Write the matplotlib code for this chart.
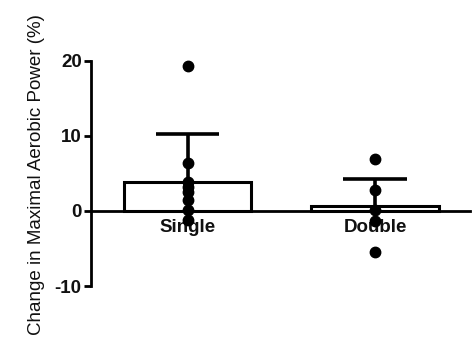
import matplotlib
matplotlib.use("Agg")
import matplotlib.pyplot as plt
import numpy as np

# Groups and individual participant changes (%)
groups = ["Single", "Double"]
single_values = [19.3, 6.4, 3.9, 3.2, 2.5, 1.5, 0.1, -1.2]
double_values = [6.9, 2.8, 0.1, -1.3, -5.4]
group_means = [3.9, 0.6]
group_sd = [6.3, 3.6]
y_ticks = [-10, 0, 10, 20]

plt.rcParams["font.family"] = ["Liberation Sans", "DejaVu Sans"]

fig = plt.figure(figsize=(4.75, 3.44), dpi=100)
ax = fig.add_axes([0.191, 0.1686, 0.798, 0.6541])

ax.spines["top"].set_visible(False)
ax.spines["right"].set_visible(False)
ax.spines["bottom"].set_position(("data", 0))
ax.spines["bottom"].set_linewidth(2.0)
ax.spines["left"].set_linewidth(2.0)

x = np.arange(len(groups))
bar_w = 0.68

ax.bar(x, group_means, width=bar_w, facecolor="white", edgecolor="black",
       linewidth=2.2, zorder=2)

# One-sided (upper) SD error bars
for xi, m, s in zip(x, group_means, group_sd):
    ax.plot([xi, xi], [m, m + s], color="black", lw=2.6, zorder=3,
            solid_capstyle="butt")
    ax.plot([xi - 0.17, xi + 0.17], [m + s, m + s], color="black", lw=2.6,
            zorder=3, solid_capstyle="butt")

for xi, vals in zip(x, [single_values, double_values]):
    ax.plot([xi] * len(vals), vals, "o", color="black", markersize=7.5,
            zorder=4, clip_on=False)

ax.set_xlim(-0.516, 1.505)
ax.set_ylim(-10, 20)
ax.set_yticks(y_ticks)
ax.set_yticklabels([str(t) for t in y_ticks])
ax.set_xticks(x)
ax.set_xticklabels(groups)
ax.tick_params(axis="y", length=5, width=2.0, pad=1.5)
ax.tick_params(axis="x", length=0, pad=5.5)
for lbl in ax.get_xticklabels() + ax.get_yticklabels():
    lbl.set_fontsize(13.5)
    lbl.set_fontweight("bold")
    lbl.set_color("#111111")

ax.set_ylabel("Change in Maximal Aerobic Power (%)", fontsize=13.5,
              color="#111111")
ax.yaxis.set_label_coords(-0.12, 0.495)

fig.savefig("out.png", dpi=100, facecolor="white")
